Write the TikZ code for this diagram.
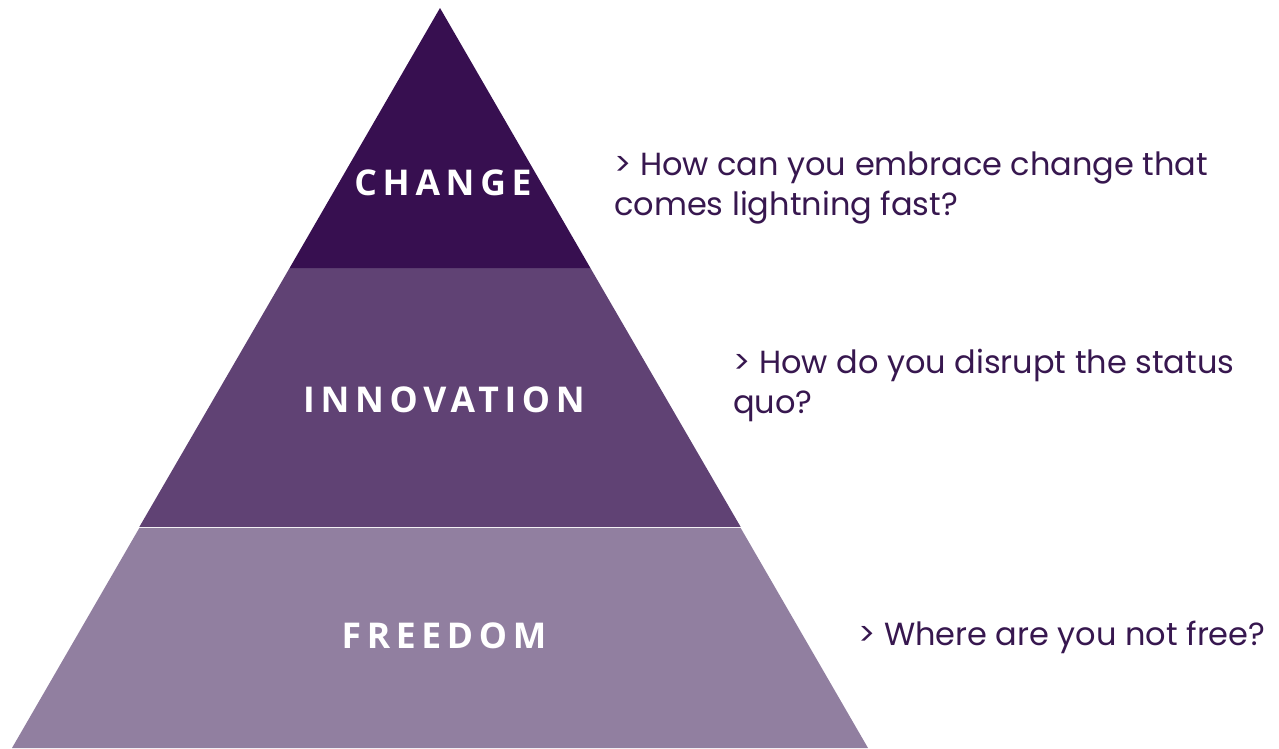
\documentclass[tikz,border=0pt]{standalone}
\usepackage{fontspec}
\setmainfont{Poppins}
\newfontfamily\labelfont{Open Sans}[LetterSpace=16]
\definecolor{topPurple}{HTML}{370F50}
\definecolor{midPurple}{HTML}{604274}
\definecolor{lowPurple}{HTML}{917FA0}
\definecolor{textPurple}{HTML}{37174F}
\tikzset{layername/.style = {text = white, font = \labelfont\bfseries\fontsize{35.5}{40}\selectfont},
         question/.style = {anchor = base west, text = textPurple, inner sep = 0pt, font = \fontsize{32}{40}\selectfont}}

\begin{document}
\begin{tikzpicture} [x = 1pt, y = -1pt]
\useasboundingbox (0, 0) rectangle (1279, 748);
\fill[white] (0, 0) rectangle (1279, 748);
\fill[lowPurple] (139.3, 528.0) -- (740.7, 528.0) -- (868.0, 748.0) -- (12.0, 748.0) -- cycle;
\fill[midPurple] (289.6, 268.0) -- (590.4, 268.0) -- (740.7, 527.0) -- (139.3, 527.0) -- cycle;
\fill[topPurple] (440.0, 8.0) -- (590.4, 268.0) -- (289.6, 268.0) -- cycle;
\draw[white, opacity = 0.4, line width = 1pt] (139.3, 527.5) -- (740.7, 527.5);
\node[layername] (change) at (443.0, 183.0){CHANGE};
\node[layername] (innovation) at (444.0, 400.0){INNOVATION};
\node[layername] (freedom) at (444.0, 636.0){FREEDOM};
\node[question] (q1a) at (614.0, 175.0){> How can you embrace change that};
\node[question] (q1b) at (614.0, 215.0){comes lightning fast?};
\node[question] (q2a) at (733.0, 373.0){> How do you disrupt the status};
\node[question] (q2b) at (733.0, 413.0){quo?};
\node[question] (q3) at (858.0, 645.0){> Where are you not free?};
\end{tikzpicture}
\end{document}
